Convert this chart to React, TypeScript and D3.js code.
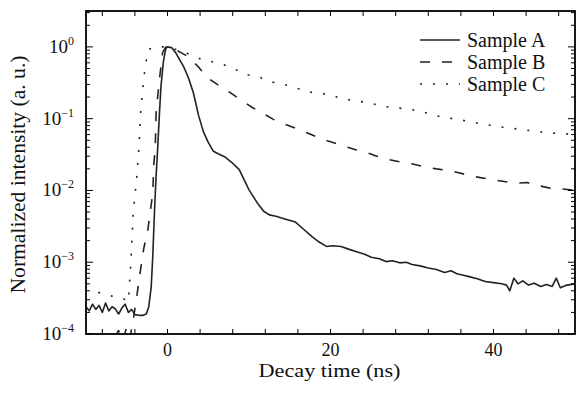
import React from "react";
import * as d3 from "d3";

// decay curves (time in ns, normalized intensity)
const timeA = [
  -10, -9.6, -9.2, -8.8, -8.4, -8.0, -7.6, -7.2, -6.8, -6.4, -6.0, -5.6, -5.2, -4.8, -4.4,
  -4.0, -3.5, -3.0, -2.6, -2.3, -2.0, -1.8, -1.6, -1.4, -1.2, -1.0, -0.8, -0.5, -0.2, 0,
  0.5, 1.0, 1.5, 2.0, 2.6, 3.2, 3.8, 4.4, 5.0, 5.6, 6.2, 7.0, 7.9, 8.8, 10, 11, 11.8,
  12.5, 13.3, 14.5, 15.7, 16.7, 17.7, 18.6, 19.5, 20.3, 21.3, 22.3, 23.4, 24.2, 25, 26,
  26.8, 27.6, 28.5, 29.3, 30, 31, 32, 33, 34, 34.8, 35.5, 36.3, 37, 38, 39, 40, 41,
  41.6, 42, 42.5, 43, 43.6, 44.3, 45, 45.8, 46.5, 47.2, 47.7, 48.2, 49, 50,
];
const intensityA = [
  0.00024, 0.00021, 0.00026, 0.00022, 0.00025, 0.0002, 0.00027, 0.00021, 0.00024, 0.000224,
  0.00019, 0.00023, 0.00026, 0.0002, 0.00022, 0.000186, 0.000182, 0.000182, 0.00019, 0.00024,
  0.00045, 0.00126, 0.005, 0.0158, 0.0398, 0.112, 0.282, 0.631, 0.955, 1,
  0.977, 0.832, 0.661, 0.525, 0.363, 0.224, 0.112, 0.066, 0.0468, 0.0355, 0.0324, 0.0295,
  0.0245, 0.0195, 0.0102, 0.00676, 0.00513, 0.00457, 0.00437, 0.00398, 0.00363, 0.00288,
  0.00229, 0.00191, 0.00166, 0.0017, 0.00166, 0.00151, 0.00138, 0.00129, 0.00117, 0.00112,
  0.00102, 0.00105, 0.00098, 0.001, 0.00093, 0.00089, 0.00083, 0.00079, 0.00072, 0.00076,
  0.00069, 0.00066, 0.00063, 0.00059, 0.00054, 0.00052, 0.0005, 0.00048, 0.0004, 0.0006,
  0.0005, 0.00055, 0.00048, 0.00051, 0.00046, 0.00049, 0.00046, 0.0006, 0.00044, 0.00048,
  0.0005,
];

const timeB = [
  -6.5, -6.0, -5.5, -5.0, -4.6, -4.2, -3.7, -3.3, -2.9, -2.4, -1.8, -1.7, -1.5, -1.4, -1.0,
  -0.6, -0.2, 0.5, 1.5, 2.6, 3.8, 4.9, 6.2, 7.6, 8.9, 10.2, 11.6, 13, 14.5, 15.9, 17.4,
  18.8, 20.2, 21.6, 23, 24.4, 25.6, 26.8, 28.5, 30.1, 31.5, 33, 34.3, 35.6, 37, 38.4, 40,
  41.5, 42.8, 44.1, 45.5, 47, 48.5, 50,
];
const intensityB = [
  0.00009, 0.000112, 0.0000794, 0.000126, 0.0000891, 0.000158, 0.00038, 0.000794, 0.00158,
  0.00288, 0.00933, 0.0214, 0.0407, 0.12, 0.347, 0.832, 1, 0.977, 0.851, 0.724, 0.525,
  0.372, 0.295, 0.234, 0.186, 0.148, 0.12, 0.0977, 0.0832, 0.0724, 0.0617, 0.0525, 0.0468,
  0.0417, 0.0372, 0.0339, 0.0302, 0.0275, 0.0251, 0.0234, 0.0214, 0.02, 0.0191, 0.0178,
  0.0162, 0.0151, 0.0141, 0.0132, 0.0126, 0.0129, 0.0117, 0.0107, 0.0105, 0.01,
];

const timeC = [
  -8.5, -7, -5.5, -4.8, -4.5, -4.2, -3.8, -3.5, -3.3, -2.9, -2.4, -1.5, 0, 1.5, 3, 4.3, 6,
  7.8, 9.4, 11.2, 12.8, 14.5, 16.3, 17.9, 19.8, 21.3, 23, 24.8, 26.5, 28.3, 30.1, 31.8,
  33.4, 35, 36.6, 38.4, 40.1, 41.8, 43.5, 45.3, 47, 48.5, 50,
];
const intensityC = [
  0.00038, 0.00034, 0.000316, 0.000282, 0.001, 0.005, 0.0141, 0.0407, 0.12, 0.38, 0.912,
  1, 1, 0.891, 0.759, 0.661, 0.603, 0.525, 0.417, 0.38, 0.324, 0.295, 0.257, 0.229, 0.219,
  0.191, 0.178, 0.166, 0.148, 0.141, 0.133, 0.12, 0.107, 0.1, 0.0933, 0.0851, 0.0794,
  0.0741, 0.0708, 0.0661, 0.0631, 0.0617, 0.0603,
];

const seriesNames = ["Sample A", "Sample B", "Sample C"];
const xTickLabels = [0, 20, 40];
const yDecades = [0, -1, -2, -3, -4];

const W = 576;
const H = 393;
const left = 86;
const right = 575;
const top = 11;
const bottom = 334;
const ink = "#222";
const font = "Liberation Serif, Times, DejaVu Serif, serif";

const dashes = [null, "10,12", "2,11"];

export default function App() {
  const x = d3.scaleLinear().domain([-10, 50]).range([left, right]);
  const y = d3.scaleLog().domain([1e-4, Math.pow(10, 0.5)]).range([bottom, top]);

  const line = d3
    .line<[number, number]>()
    .x((d) => x(d[0]))
    .y((d) => y(d[1]));

  const series = [
    d3.zip(timeA, intensityA) as [number, number][],
    d3.zip(timeB, intensityB) as [number, number][],
    d3.zip(timeC, intensityC) as [number, number][],
  ];

  const xTicks = d3.range(-8, 50, 4);
  const yMinor: number[] = [];
  for (let e = -4; e < 1; e++) {
    for (let m = 2; m <= 9; m++) {
      const v = m * Math.pow(10, e);
      if (y(v) >= top) yMinor.push(v);
    }
  }

  return (
    <svg
      width={W}
      height={H}
      style={{ position: "absolute", left: 0, top: 0, background: "#fff" }}
    >
      <defs>
        <clipPath id="plot">
          <rect x={left} y={top} width={right - left} height={bottom - top} />
        </clipPath>
      </defs>

      <g clipPath="url(#plot)">
        {series.map((s, i) => (
          <path
            key={i}
            d={line(s) || ""}
            fill="none"
            stroke={ink}
            strokeWidth={1.6}
            strokeDasharray={dashes[i] || undefined}
            strokeLinejoin="round"
          />
        ))}
      </g>

      {/* ticks, inward on all four sides */}
      <g stroke="#000" strokeWidth={1}>
        {xTicks.map((t) => (
          <g key={t}>
            <line x1={x(t)} x2={x(t)} y1={bottom} y2={bottom - 5} />
            <line x1={x(t)} x2={x(t)} y1={top} y2={top + 5} />
          </g>
        ))}
        {yDecades.map((e) => (
          <g key={e}>
            <line x1={left} x2={left + 7} y1={y(Math.pow(10, e))} y2={y(Math.pow(10, e))} />
            <line x1={right} x2={right - 7} y1={y(Math.pow(10, e))} y2={y(Math.pow(10, e))} />
          </g>
        ))}
        {yMinor.map((v) => (
          <g key={v}>
            <line x1={left} x2={left + 4} y1={y(v)} y2={y(v)} />
            <line x1={right} x2={right - 4} y1={y(v)} y2={y(v)} />
          </g>
        ))}
      </g>

      <rect
        x={left}
        y={top}
        width={right - left}
        height={bottom - top}
        fill="none"
        stroke="#000"
        strokeWidth={1.8}
      />

      <g style={{ fontFamily: font }} fill="#111">
        {xTickLabels.map((t) => (
          <text key={t} x={x(t)} y={356} fontSize={18} textAnchor="middle">
            {t}
          </text>
        ))}
        {yDecades.map((e) => (
          <text key={e} x={74} y={y(Math.pow(10, e)) + 6} fontSize={19} textAnchor="end">
            10
            <tspan fontSize={12} dy={-8}>
              {e === 0 ? "0" : "\u2212" + Math.abs(e)}
            </tspan>
          </text>
        ))}
        <text
          x={(left + right) / 2 - 1}
          y={377}
          fontSize={18}
          textAnchor="middle"
          textLength={142}
          lengthAdjust="spacingAndGlyphs"
        >
          Decay time (ns)
        </text>
        <text
          transform={`translate(25, ${(top + bottom) / 2 + 2}) rotate(-90)`}
          fontSize={21}
          textAnchor="middle"
          textLength={238}
          lengthAdjust="spacingAndGlyphs"
        >
          Normalized intensity (a. u.)
        </text>

        {seriesNames.map((name, i) => (
          <g key={name} transform={`translate(0, ${40 + i * 22})`}>
            <line
              x1={420}
              x2={460}
              y1={0}
              y2={0}
              stroke={ink}
              strokeWidth={1.6}
              strokeDasharray={dashes[i] || undefined}
            />
            <text x={467} y={7} fontSize={20}>
              {name}
            </text>
          </g>
        ))}
      </g>
    </svg>
  );
}
